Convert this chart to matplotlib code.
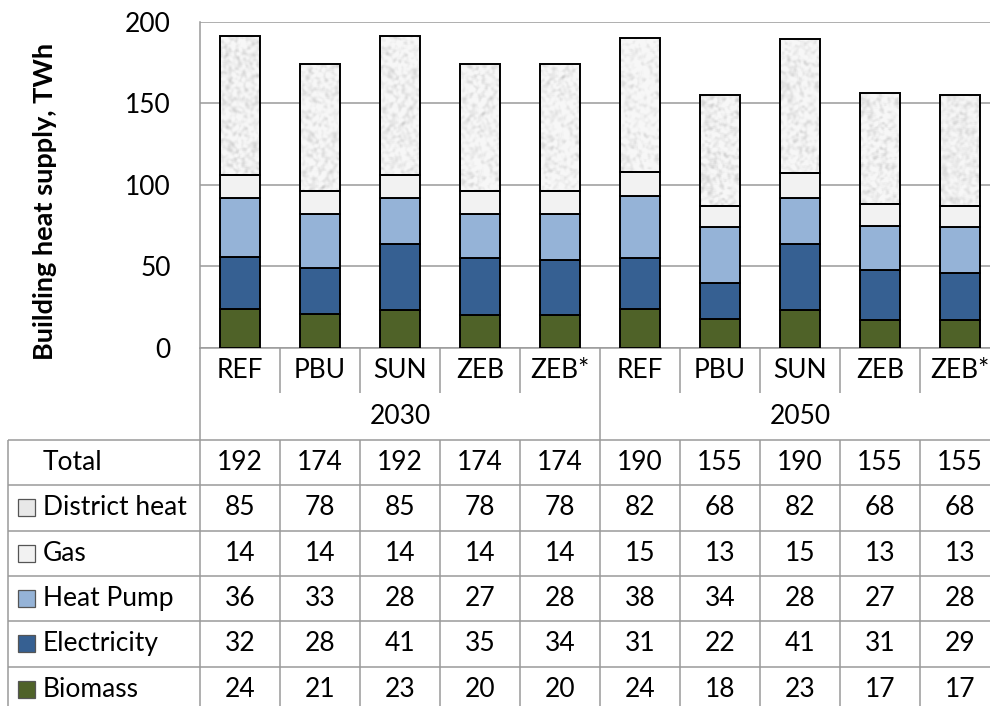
import numpy as np
import matplotlib
matplotlib.use("Agg")
import matplotlib.pyplot as plt
from matplotlib.patches import Rectangle

plt.rcParams['font.family'] = ['Lato', 'DejaVu Sans']

# ---- data -------------------------------------------------------------
scenarios = ['REF', 'PBU', 'SUN', 'ZEB', 'ZEB*', 'REF', 'PBU', 'SUN', 'ZEB', 'ZEB*']
years = ['2030', '2050']
total = [192, 174, 192, 174, 174, 190, 155, 190, 155, 155]
district_heat = [85, 78, 85, 78, 78, 82, 68, 82, 68, 68]
gas = [14, 14, 14, 14, 14, 15, 13, 15, 13, 13]
heat_pump = [36, 33, 28, 27, 28, 38, 34, 28, 27, 28]
electricity = [32, 28, 41, 35, 34, 31, 22, 41, 31, 29]
biomass = [24, 21, 23, 20, 20, 24, 18, 23, 17, 17]
yticks = [0, 50, 100, 150, 200]

# ---- styling ----------------------------------------------------------
C_BIO = '#4f6228'
C_ELEC = '#366092'
C_HP = '#95b3d7'
C_GAS = '#f2f2f2'
C_DH = '#e8e8e8'
GRID = '#9a9a9a'
FS = 19

W, H = 990, 706
fig = plt.figure(figsize=(W / 100, H / 100), dpi=100)

def fx(p):
    return p / W

def fy(p):
    return 1 - p / H

# plot area: x 200..1000 px, y 21.5..348 px
ax = fig.add_axes([fx(200), fy(348), 800 / W, (348 - 21.5) / H])
ax.set_facecolor('none')
ax.set_zorder(2)

n = len(scenarios)
x = np.arange(n)
bw = 0.5

def stone_texture(h, w, seed_shift):
    i, j = np.mgrid[0:h, 0:w].astype(float)
    v = np.sin((i + seed_shift) * 12.9898 + j * 78.233) * 43758.5453
    v = v - np.floor(v)
    for _ in range(2):
        p = np.pad(v, 1, mode='edge')
        v = sum(p[a:a + h, b:b + w] for a in range(3) for b in range(3)) / 9.0
    v = (v - v.min()) / (v.max() - v.min() + 1e-9)
    g = 0.97 - 0.28 * np.clip(v - 0.35, 0, 1) ** 1.2
    return np.dstack([g, g, g])

bottom = np.zeros(n)
layers = [(biomass, C_BIO), (electricity, C_ELEC), (heat_pump, C_HP), (gas, C_GAS)]
for vals, col in layers:
    ax.bar(x, vals, bw, bottom=bottom, color=col, edgecolor='black',
           linewidth=1.4, zorder=3)
    bottom = bottom + np.array(vals)

dh_bars = ax.bar(x, district_heat, bw, bottom=bottom, facecolor='none',
                 edgecolor='black', linewidth=1.4, zorder=3)
for k, patch in enumerate(dh_bars.patches):
    x0 = patch.get_x()
    y0 = patch.get_y()
    x1 = x0 + patch.get_width()
    y1 = y0 + patch.get_height()
    hp = int(patch.get_height() * 1.63) + 2
    tex = stone_texture(hp, 42, k * 37)
    im = ax.imshow(tex, extent=[x0, x1, y0, y1], aspect='auto',
                   interpolation='bilinear', zorder=2.5)
    im.set_clip_path(patch)

ax.set_xlim(-0.5, n - 0.5)
ax.set_ylim(0, 200)
ax.set_yticks(yticks)
ax.set_xticks([])
ax.yaxis.grid(True, color=GRID, linewidth=1.1)
ax.set_axisbelow(True)
for s in ['top', 'right']:
    ax.spines[s].set_visible(False)
for s in ['left', 'bottom']:
    ax.spines[s].set_color(GRID)
    ax.spines[s].set_linewidth(1.1)
ax.tick_params(axis='y', length=0, pad=21, labelsize=FS, labelcolor='black')

fig.text(fx(45), fy(201), 'Building heat supply, TWh', rotation=90,
         ha='center', va='center', fontsize=19.5, fontweight='bold')

# ---- data table below the plot ---------------------------------------
tab = fig.add_axes([0, 0, 1000 / W, 1])
tab.set_zorder(1)
tab.axis('off')
tab.set_xlim(-3.0, n - 0.5)   # same unit width as the plot area
tab.set_ylim(H, 0)

def ux(p):
    return (p - 200) / 80 - 0.5

lkw = dict(color=GRID, linewidth=1.1, solid_capstyle='butt')
row_top = 440
row_h = 45.3
table_bottom = row_top + 6 * row_h

# vertical lines
tab.plot([-0.5, -0.5], [348, table_bottom], **lkw)
tab.plot([4.5, 4.5], [348, table_bottom], **lkw)
for i in range(n - 1):
    if i == 4:
        continue
    tab.plot([i + 0.5, i + 0.5], [348, 393], **lkw)
    tab.plot([i + 0.5, i + 0.5], [row_top, table_bottom], **lkw)
tab.plot([ux(8), ux(8)], [row_top, table_bottom], **lkw)
# horizontal lines
for r in range(7):
    yy = row_top + r * row_h
    tab.plot([ux(8), n - 0.5], [yy, yy], **lkw)

# scenario and year headers
for i, s in enumerate(scenarios):
    tab.text(i, 371, s, ha='center', va='center', fontsize=FS)
for g, yr in enumerate(years):
    tab.text(g * 5 + 2, 417, yr, ha='center', va='center', fontsize=FS)

rows = [
    ('Total', total, None),
    ('District heat', district_heat, C_DH),
    ('Gas', gas, C_GAS),
    ('Heat Pump', heat_pump, C_HP),
    ('Electricity', electricity, C_ELEC),
    ('Biomass', biomass, C_BIO),
]
for r, (label, vals, col) in enumerate(rows):
    yc = row_top + (r + 0.5) * row_h
    tab.text(ux(43), yc, label, ha='left', va='center', fontsize=FS)
    if col is not None:
        tab.add_patch(Rectangle((ux(18), yc - 8.5), 17 / 80, 17,
                                facecolor=col, edgecolor='#555555',
                                linewidth=0.9))
    for i, v in enumerate(vals):
        tab.text(i, yc, str(v), ha='center', va='center', fontsize=FS)

fig.savefig('out.png', dpi=100)
